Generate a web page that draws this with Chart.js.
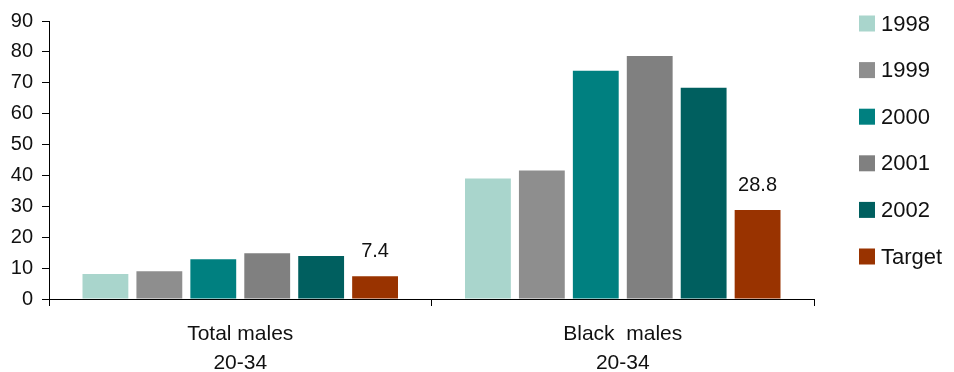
<!DOCTYPE html>
<html>
<head>
<meta charset="utf-8">
<script src="https://cdn.jsdelivr.net/npm/chart.js@4"></script>
<style>
  body { margin: 0; background: #fff; }
  #wrap { width: 954px; height: 372px; }
</style>
</head>
<body>
<div id="wrap"><canvas id="bar-chart" width="954" height="372"></canvas></div>
<script>
var categorias = [["Total males", "20-34"], ["Black  males", "20-34"]];
var anos = ["1998", "1999", "2000", "2001", "2002", "Target"];
var v1998 = [8.1, 39.0];
var v1999 = [9.0, 41.6];
var v2000 = [12.9, 73.9];
var v2001 = [14.8, 78.7];
var v2002 = [13.9, 68.4];
var vTarget = [7.4, 28.8];
var cores = ["#a9d5cc", "#8e8e8e", "#008080", "#808080", "#005f5f", "#993300"];
var yTicks = [0, 10, 20, 30, 40, 50, 60, 70, 80, 90];

var series = [v1998, v1999, v2000, v2001, v2002, vTarget];
var datasets = [];
for (var i = 0; i < series.length; i++) {
    datasets.push({
        label: anos[i],
        data: series[i],
        backgroundColor: cores[i],
        borderWidth: 0,
        categoryPercentage: 0.846,
        barPercentage: 0.85
    });
}

// rotulo do valor so na serie Target
var rotulos = {
    id: "rotulos",
    afterDatasetsDraw: function(chart){
        var c = chart.ctx, idx = datasets.length - 1;
        var meta = chart.getDatasetMeta(idx);
        c.save();
        c.font = "20px 'Liberation Sans'";
        c.fillStyle = "#111";
        c.textAlign = "center";
        c.textBaseline = "alphabetic";
        meta.data.forEach(function(bar, j){
            c.fillText(String(datasets[idx].data[j]), bar.x, bar.y - 19);
        });
        c.restore();
    }
};

// legenda na direita
var legenda = {
    id: "legenda",
    afterDraw: function(chart){
        var c = chart.ctx;
        c.save();
        c.font = "22px 'Liberation Sans'";
        c.textBaseline = "middle";
        c.textAlign = "left";
        chart.data.datasets.forEach(function(ds, i){
            var y = 23.5 + i * 46.6;
            c.fillStyle = ds.backgroundColor;
            c.fillRect(859, y - 8, 16, 16);
            c.fillStyle = "#111";
            c.fillText(ds.label, 881, y + 1);
        });
        c.restore();
    }
};

var ctx = document.getElementById("bar-chart");
var chart = new Chart(ctx, {
    type: "bar",
    data: { labels: categorias, datasets: datasets },
    options: {
        responsive: false,
        animation: false,
        layout: { padding: { top: 20, right: 140, left: 0, bottom: 0 } },
        plugins: { legend: { display: false }, tooltip: { enabled: false } },
        scales: {
            x: {
                offset: true,
                grid: { offset: true, drawOnChartArea: false, color: "#000", tickLength: 7 },
                border: { color: "#000", width: 1 },
                ticks: { color: "#111", padding: 14, font: { family: "'Liberation Sans'", size: 21, lineHeight: "29px" } },
                afterFit: function(s){ s.height = 73; }
            },
            y: {
                min: 0, max: 90,
                afterBuildTicks: function(s){ s.ticks = yTicks.map(function(v){ return { value: v }; }); },
                grid: { drawOnChartArea: false, color: "#000", tickLength: 7 },
                border: { color: "#000", width: 1 },
                ticks: { color: "#111", padding: 9, font: { family: "'Liberation Sans'", size: 20 } },
                afterFit: function(s){ s.width = 49; }
            }
        }
    },
    plugins: [rotulos, legenda]
});
</script>
</body>
</html>
